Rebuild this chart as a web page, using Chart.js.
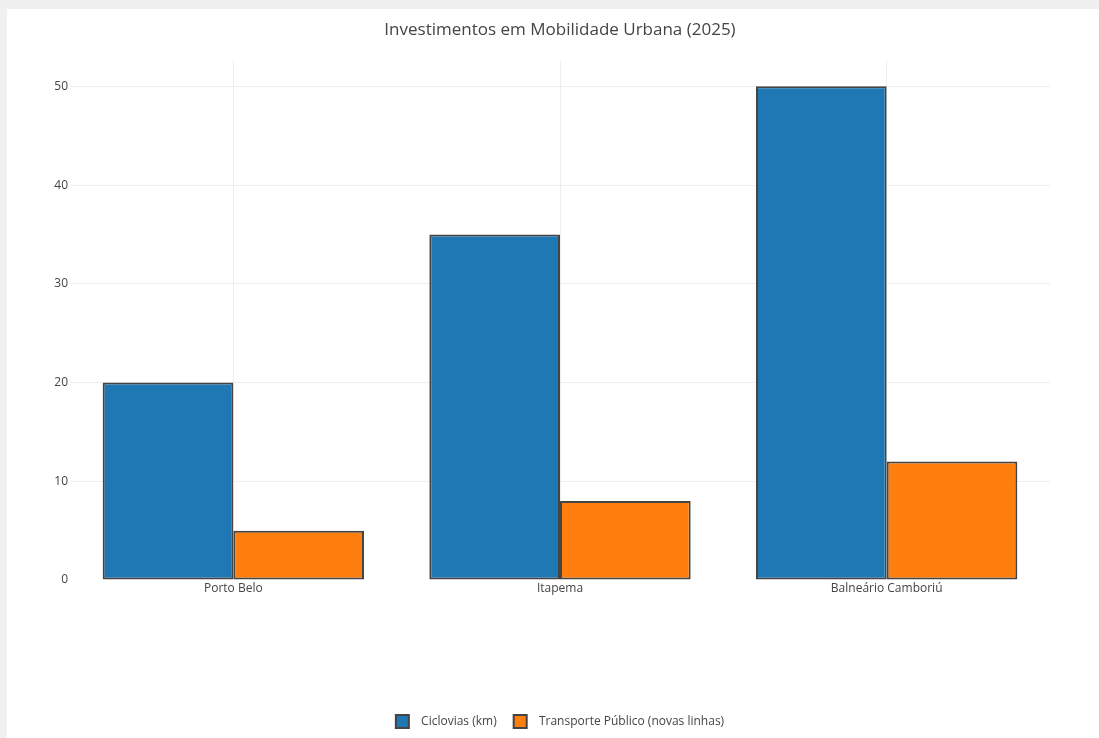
<!DOCTYPE html>
<html lang="pt-BR">
<head>
<meta charset="utf-8">
<title>Investimentos em Mobilidade Urbana (2025)</title>
<script src="https://cdn.jsdelivr.net/npm/chart.js@4/dist/chart.umd.min.js"></script>
<style>
  html, body { margin: 0; padding: 0; background: #f0f0f0; overflow: hidden; }
  #card { position: absolute; left: 7px; top: 9px; width: 1092px; height: 729px; background: #ffffff; }
  #card canvas { display: block; }
</style>
</head>
<body>
<div id="card"><canvas id="chart" width="1092" height="729"></canvas></div>
<script>
// Cities and investment figures
const cities = ['Porto Belo', 'Itapema', 'Balneário Camboriú'];
const ciclovias = [20, 35, 50];          // km of bike lanes
const transporte = [5, 8, 12];           // new public transport lines
const seriesNames = ['Ciclovias (km)', 'Transporte Público (novas linhas)'];
const yTicks = [0, 10, 20, 30, 40, 50];
const yMax = 52.63;

const FONT = '"Open Sans", "Liberation Sans", sans-serif';
const TEXT = '#444444';
const GRID = '#eeeeee';
const EDGE = '#444444';

const CANVAS_H = 729;
const PLOT_BOTTOM = 569;   // canvas y of the value-0 baseline
const LEFT_PAD = 14;       // outer margin left of the tick labels
const AXIS_W = 49;         // width reserved for the y tick labels
const RIGHT_W = 49;        // empty margin right of the plot

Chart.defaults.font.family = FONT;
Chart.defaults.color = TEXT;

new Chart(document.getElementById('chart'), {
  type: 'bar',
  data: {
    labels: cities,
    datasets: [
      {
        label: seriesNames[0],
        data: ciclovias,
        backgroundColor: '#1f77b4',
        borderColor: EDGE,
        borderWidth: 2,
        borderSkipped: false
      },
      {
        label: seriesNames[1],
        data: transporte,
        backgroundColor: '#ff7f0e',
        borderColor: EDGE,
        borderWidth: 2,
        borderSkipped: false
      }
    ]
  },
  options: {
    responsive: false,
    animation: false,
    categoryPercentage: 0.8,
    barPercentage: 1.0,
    layout: { padding: { left: LEFT_PAD, right: 0, top: 0, bottom: 0 } },
    plugins: {
      title: {
        display: true,
        text: 'Investimentos em Mobilidade Urbana (2025)',
        color: TEXT,
        font: { family: FONT, size: 17, weight: 'normal' },
        padding: { top: 11, bottom: 20 }
      },
      legend: {
        position: 'bottom',
        labels: {
          boxWidth: 13,
          boxHeight: 13,
          padding: 17,
          color: TEXT,
          font: { family: FONT, size: 12 },
          generateLabels(chart) {
            const items = Chart.defaults.plugins.legend.labels.generateLabels(chart);
            items.forEach((it) => { it.text = '  ' + it.text; });
            return items;
          }
        }
      },
      tooltip: { enabled: false }
    },
    scales: {
      x: {
        offset: true,
        grid: { display: true, offset: false, color: GRID, drawTicks: false },
        border: { display: false },
        ticks: { padding: 1, color: TEXT, font: { family: FONT, size: 12 } },
        afterFit(scale) {
          const lg = scale.chart.legend;
          const used = lg ? lg.height : 0;
          scale.height = CANVAS_H - PLOT_BOTTOM - used - 2;
        }
      },
      y: {
        min: 0,
        max: yMax,
        grid: {
          color: (ctx) => (ctx.tick && ctx.tick.value === 0 ? 'rgba(0,0,0,0)' : GRID),
          drawTicks: false
        },
        border: { display: false },
        ticks: { stepSize: 10, includeBounds: false, padding: 2, color: TEXT, font: { family: FONT, size: 12 } },
        afterBuildTicks(scale) {
          scale.ticks = yTicks.map((v) => ({ value: v }));
        },
        afterFit(scale) {
          scale.width = AXIS_W;
        }
      },
      margin: {
        type: 'linear',
        axis: 'y',
        position: 'right',
        display: true,
        grid: { display: false, drawTicks: false },
        border: { display: false },
        ticks: { display: false },
        afterFit(scale) {
          scale.width = RIGHT_W;
        }
      }
    }
  }
});
</script>
</body>
</html>
